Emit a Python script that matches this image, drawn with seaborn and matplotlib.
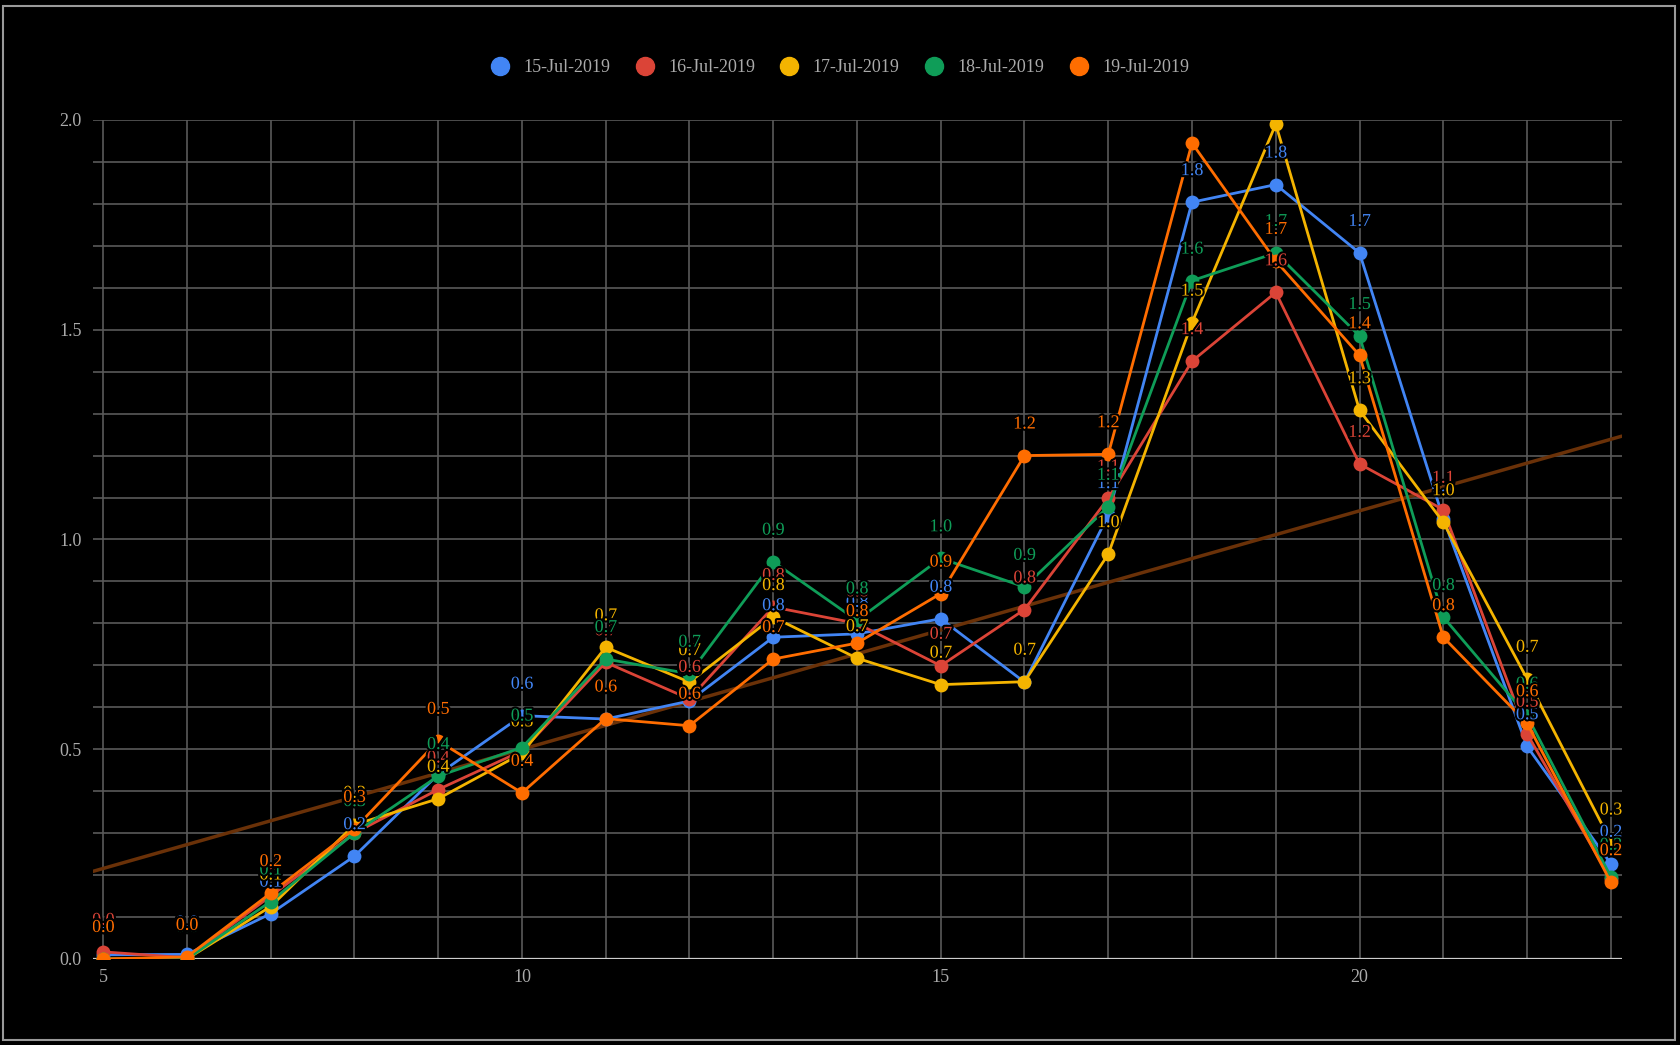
import numpy as np
import pandas as pd
import matplotlib
matplotlib.use("Agg")
import matplotlib.pyplot as plt
import seaborn as sns
from matplotlib.lines import Line2D
from matplotlib.patches import Rectangle
from matplotlib.ticker import MultipleLocator
import matplotlib.patheffects as pe
from matplotlib.transforms import offset_copy

# ---------------- data ----------------
hours = list(range(5, 24))
series_names = ["15-Jul-2019", "16-Jul-2019", "17-Jul-2019", "18-Jul-2019", "19-Jul-2019"]
jul15 = [0.010, 0.011, 0.108, 0.245, 0.440, 0.580, 0.572, 0.615, 0.767, 0.775,
         0.811, 0.660, 1.058, 1.804, 1.846, 1.683, 1.050, 0.507, 0.227]
jul16 = [0.017, 0.003, 0.150, 0.300, 0.404, 0.496, 0.707, 0.620, 0.839, 0.800,
         0.699, 0.833, 1.098, 1.425, 1.589, 1.180, 1.071, 0.537, 0.190]
jul17 = [0.000, 0.000, 0.125, 0.320, 0.382, 0.490, 0.743, 0.660, 0.815, 0.717,
         0.654, 0.661, 0.965, 1.517, 1.990, 1.308, 1.041, 0.668, 0.280]
jul18 = [0.000, 0.000, 0.137, 0.300, 0.436, 0.504, 0.715, 0.680, 0.947, 0.807,
         0.955, 0.887, 1.078, 1.617, 1.683, 1.485, 0.815, 0.580, 0.196]
jul19 = [0.000, 0.005, 0.157, 0.310, 0.520, 0.396, 0.573, 0.556, 0.715, 0.753,
         0.871, 1.200, 1.203, 1.945, 1.664, 1.439, 0.767, 0.562, 0.183]
series_values = [jul15, jul16, jul17, jul18, jul19]
x_tick_labels = [5, 10, 15, 20]
y_tick_labels = [0.0, 0.5, 1.0, 1.5, 2.0]

colors = ["#4285F4", "#DB4437", "#F4B400", "#0F9D58", "#FF6D00"]
trend_color = "#6a3108"

rows = []
for name, vals in zip(series_names, series_values):
    for h, v in zip(hours, vals):
        rows.append({"hour": h, "value": v, "date": name})
df = pd.DataFrame(rows)

# ---------------- style ----------------
sns.set_theme(style="dark")
plt.rcParams["font.family"] = ["Liberation Serif", "DejaVu Serif"]

fig = plt.figure(figsize=(16.8, 10.45), dpi=100, facecolor="black")
ax = fig.add_axes([0.0554, 0.0823, 0.9099, 0.8029])
ax.set_facecolor("black")
ax.set_xlim(4.88, 23.13)
ax.set_ylim(0, 2.0)

# trendline (linear fit of last series) across full axis
sns.regplot(data=df[df["date"] == series_names[4]], x="hour", y="value",
            scatter=False, ci=None, truncate=False, ax=ax,
            line_kws=dict(color=trend_color, lw=2.5, zorder=2))

sns.lineplot(data=df, x="hour", y="value", hue="date", hue_order=series_names,
             palette=colors, marker="o", markersize=10, markeredgewidth=0,
             linewidth=2.0, ax=ax, legend=False, zorder=3)

ax.set_xlim(4.88, 23.13)
ax.set_ylim(0, 2.0)

# data labels
trans = offset_copy(ax.transData, fig=fig, y=19.5, units="points")
for name, vals, c in zip(series_names, series_values, colors):
    for h, v in zip(hours, vals):
        if v + 0.09 > 2.0:
            continue
        ax.text(h, v, f"{v:.1f}", transform=trans, ha="center", va="baseline",
                color=c, fontsize=13, zorder=5, clip_on=True,
                path_effects=[pe.withStroke(linewidth=3, foreground="black")])

# grid / ticks
ax.set_xticks(x_tick_labels)
ax.xaxis.set_minor_locator(MultipleLocator(1))
ax.set_yticks(y_tick_labels)
ax.set_yticklabels([f"{t:.1f}" for t in y_tick_labels])
ax.yaxis.set_minor_locator(MultipleLocator(0.1))
ax.grid(True, which="both", color="#5a5a5a", linewidth=1.2)
ax.set_axisbelow(True)
ax.tick_params(which="both", length=0, colors="#aaaaaa", labelsize=13)
ax.tick_params(axis="y", pad=8)
ax.tick_params(axis="x", pad=7)
ax.set_xlabel("")
ax.set_ylabel("")
for s in ax.spines.values():
    s.set_visible(False)
ax.axhline(0, color="#cccccc", lw=1.6, zorder=1.5)

# legend
handles = [Line2D([0], [0], marker="o", color=c, linestyle="none", markersize=13)
           for c in colors]
fig.legend(handles, series_names, loc="center", bbox_to_anchor=(0.5, 0.935),
           ncol=5, frameon=False, fontsize=13, labelcolor="#aaaaaa",
           handlelength=1.0, handletextpad=0.8, columnspacing=1.4)

# outer border
fig.patches.append(Rectangle((0.0018, 0.005), 0.9953, 0.989, transform=fig.transFigure,
                             fill=False, edgecolor="#9a9a9a", lw=1.5))

fig.savefig("out.png", dpi=100, facecolor="black")
